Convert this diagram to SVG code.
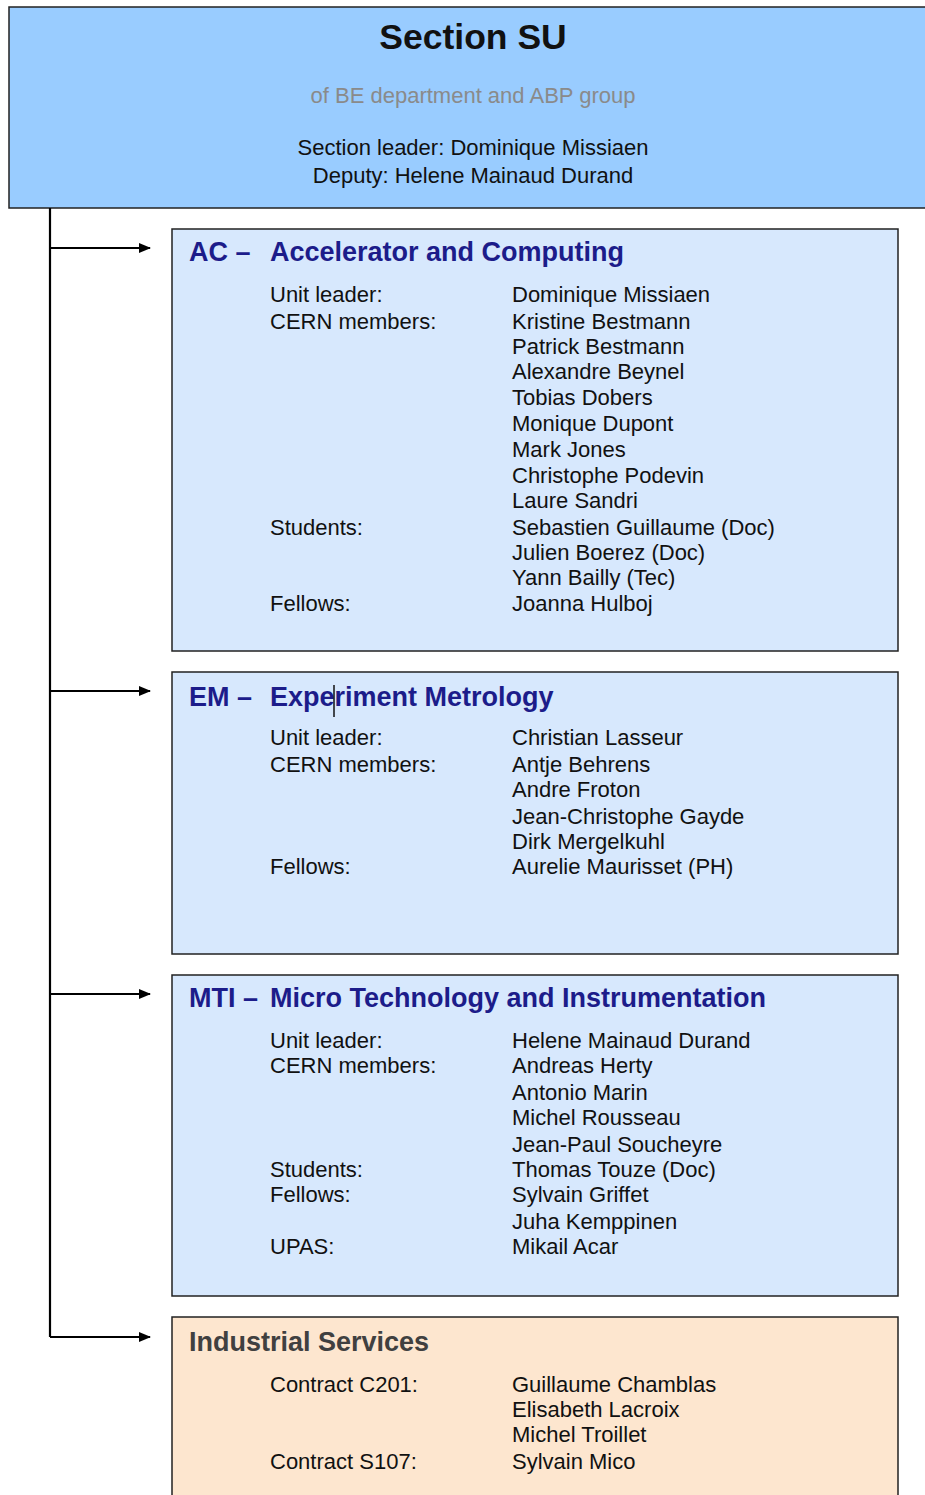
<svg xmlns="http://www.w3.org/2000/svg" width="925" height="1495" viewBox="0 0 925 1495">
<defs>
<marker id="ah" markerWidth="12" markerHeight="10" refX="11" refY="5" orient="auto" markerUnits="userSpaceOnUse">
<path d="M0,0 L12,5 L0,10 Z" fill="#000"/>
</marker>
<style>
text{font-family:"Liberation Sans",Arial,sans-serif;}
.box{stroke:#222;stroke-width:1.5;}
.unit{fill:#d7e8fd;}
.ind{fill:#fde6cf;}
.ttl{font-size:27px;fill:#1c1c8a;font-weight:bold;}
.ttlg{font-size:27px;fill:#404040;font-weight:bold;}
.t{font-size:22px;fill:#111;}
.conn{stroke:#000;stroke-width:2.2;fill:none;}
</style>
</defs>
<rect width="925" height="1495" fill="#fff"/>
<g id="section">
<rect x="9" y="7" width="930" height="201" fill="#99ccff" class="box"/>
<text x="473" y="49" text-anchor="middle" style="font-size:35.5px;font-weight:bold;fill:#111">Section SU</text>
<text x="473" y="103" text-anchor="middle" style="font-size:22px;fill:#8a8a8a">of BE department and ABP group</text>
<text x="473" y="155" text-anchor="middle" class="t">Section leader: Dominique Missiaen</text>
<text x="473" y="183" text-anchor="middle" class="t">Deputy: Helene Mainaud Durand</text>
</g>
<g id="connectors">
<path class="conn" d="M50,208 V1337"/>
<path class="conn" d="M50,248 H150" marker-end="url(#ah)"/>
<path class="conn" d="M50,691 H150" marker-end="url(#ah)"/>
<path class="conn" d="M50,994 H150" marker-end="url(#ah)"/>
<path class="conn" d="M50,1337 H150" marker-end="url(#ah)"/>
</g>
<g id="ac">
<rect x="172" y="229" width="726" height="422" class="box unit"/>
<text x="189" y="261" class="ttl">AC –</text>
<text x="270" y="261" class="ttl">Accelerator and Computing</text>
<text x="270" y="302" class="t">Unit leader:</text>
<text x="270" y="329" class="t">CERN members:</text>
<text x="270" y="535" class="t">Students:</text>
<text x="270" y="611" class="t">Fellows:</text>
<text x="512" y="302" class="t">Dominique Missiaen</text>
<text x="512" y="329" class="t">Kristine Bestmann</text>
<text x="512" y="354" class="t">Patrick Bestmann</text>
<text x="512" y="379" class="t">Alexandre Beynel</text>
<text x="512" y="405" class="t">Tobias Dobers</text>
<text x="512" y="431" class="t">Monique Dupont</text>
<text x="512" y="457" class="t">Mark Jones</text>
<text x="512" y="483" class="t">Christophe Podevin</text>
<text x="512" y="508" class="t">Laure Sandri</text>
<text x="512" y="535" class="t">Sebastien Guillaume (Doc)</text>
<text x="512" y="560" class="t">Julien Boerez (Doc)</text>
<text x="512" y="585" class="t">Yann Bailly (Tec)</text>
<text x="512" y="611" class="t">Joanna Hulboj</text>
</g>
<g id="em">
<rect x="172" y="672" width="726" height="282" class="box unit"/>
<text x="189" y="706" class="ttl">EM –</text>
<text x="270" y="706" class="ttl">Experiment Metrology</text>
<line x1="334" y1="685" x2="334" y2="717" stroke="#111" stroke-width="1.5"/>
<text x="270" y="745" class="t">Unit leader:</text>
<text x="270" y="772" class="t">CERN members:</text>
<text x="270" y="874" class="t">Fellows:</text>
<text x="512" y="745" class="t">Christian Lasseur</text>
<text x="512" y="772" class="t">Antje Behrens</text>
<text x="512" y="797" class="t">Andre Froton</text>
<text x="512" y="824" class="t">Jean-Christophe Gayde</text>
<text x="512" y="849" class="t">Dirk Mergelkuhl</text>
<text x="512" y="874" class="t">Aurelie Maurisset (PH)</text>
</g>
<g id="mti">
<rect x="172" y="975" width="726" height="321" class="box unit"/>
<text x="189" y="1007" class="ttl">MTI –</text>
<text x="270" y="1007" class="ttl">Micro Technology and Instrumentation</text>
<text x="270" y="1048" class="t">Unit leader:</text>
<text x="270" y="1073" class="t">CERN members:</text>
<text x="270" y="1177" class="t">Students:</text>
<text x="270" y="1202" class="t">Fellows:</text>
<text x="270" y="1254" class="t">UPAS:</text>
<text x="512" y="1048" class="t">Helene Mainaud Durand</text>
<text x="512" y="1073" class="t">Andreas Herty</text>
<text x="512" y="1100" class="t">Antonio Marin</text>
<text x="512" y="1125" class="t">Michel Rousseau</text>
<text x="512" y="1152" class="t">Jean-Paul Soucheyre</text>
<text x="512" y="1177" class="t">Thomas Touze (Doc)</text>
<text x="512" y="1202" class="t">Sylvain Griffet</text>
<text x="512" y="1229" class="t">Juha Kemppinen</text>
<text x="512" y="1254" class="t">Mikail Acar</text>
</g>
<g id="industrial">
<rect x="172" y="1317" width="726" height="200" class="box ind"/>
<text x="189" y="1351" class="ttlg">Industrial Services</text>
<text x="270" y="1392" class="t">Contract C201:</text>
<text x="270" y="1469" class="t">Contract S107:</text>
<text x="512" y="1392" class="t">Guillaume Chamblas</text>
<text x="512" y="1417" class="t">Elisabeth Lacroix</text>
<text x="512" y="1442" class="t">Michel Troillet</text>
<text x="512" y="1469" class="t">Sylvain Mico</text>
</g>
</svg>
